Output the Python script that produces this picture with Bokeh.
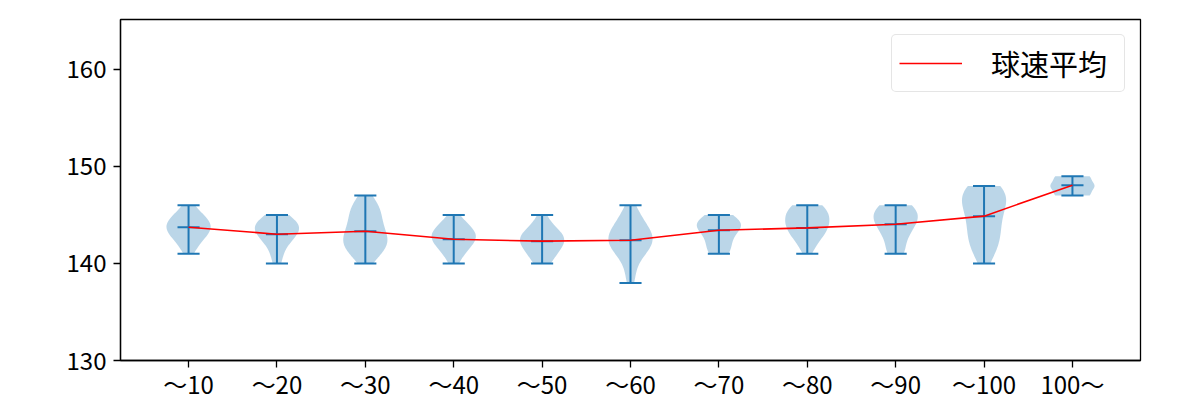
import numpy as np
from bokeh.plotting import figure
from bokeh.models import FixedTicker, Range1d, Legend, LegendItem
from bokeh.embed import file_html
from bokeh.resources import INLINE

# ---- data ----
categories = ["～10", "～20", "～30", "～40", "～50", "～60",
              "～70", "～80", "～90", "～100", "100～"]
# lowest speed of each group (km/h) and pitch counts per km/h upward from it
speed_min = [141, 140, 140, 140, 140, 138, 141, 141, 141, 140, 147]
speed_counts = [
    [1, 2, 4, 5, 3, 1],
    [1, 1, 2, 4, 5, 2],
    [1, 3, 5, 4, 3, 3, 3, 1],
    [1, 2, 4, 5, 3, 1],
    [2, 3, 5, 5, 2, 1],
    [1, 1, 1, 3, 5, 5, 3, 2, 1],
    [2, 2, 2, 5, 2],
    [1, 2, 4, 5, 5, 4],
    [2, 1, 2, 3, 4, 3],
    [1, 2, 3, 3, 3, 3, 4, 5, 4],
    [4, 5, 4],
]
speed_avg = [143.74, 143.02, 143.33, 142.5, 142.3, 142.4,
             143.43, 143.67, 144.05, 144.88, 148.07]

positions = list(range(1, len(categories) + 1))
BLUE = "#1f77b4"

p = figure(width=1184, height=400, output_backend="svg", toolbar_location=None,
           x_range=Range1d(0.23, 11.77), y_range=Range1d(130, 165.15),
           min_border_left=120, min_border_top=19, min_border_bottom=40,
           min_border_right=44)
p.frame_width = 1020
p.frame_height = 341
p.outline_line_color = "black"
p.outline_line_width = 1.3
p.xgrid.visible = False
p.ygrid.visible = False
p.background_fill_color = "white"

# violins (gaussian KDE, Scott bandwidth)
vx, vy = [], []
for pos, lo, cnt in zip(positions, speed_min, speed_counts):
    samples = np.repeat(np.arange(lo, lo + len(cnt)), cnt).astype(float)
    n = len(samples)
    bw = samples.std(ddof=1) * n ** (-0.2)
    ys = np.linspace(samples.min(), samples.max(), 100)
    dens = np.exp(-0.5 * ((ys[:, None] - samples[None, :]) / bw) ** 2).sum(axis=1)
    half = 0.25 * dens / dens.max()
    vx.append(list(pos - half) + list((pos + half)[::-1]))
    vy.append(list(ys) + list(ys[::-1]))
p.patches(vx, vy, fill_color=BLUE, fill_alpha=0.3, line_color=None)

# bars, caps and mean markers
mins = [lo for lo in speed_min]
maxs = [lo + len(c) - 1 for lo, c in zip(speed_min, speed_counts)]
p.segment(positions, mins, positions, maxs, line_color=BLUE, line_width=2)
for vals in (mins, maxs, speed_avg):
    p.segment([x - 0.125 for x in positions], vals,
              [x + 0.125 for x in positions], vals,
              line_color=BLUE, line_width=2)

r = p.line(positions, speed_avg, line_color="red", line_width=1.6)

# axes
tick_font = "Noto Sans CJK JP"
p.xaxis.ticker = FixedTicker(ticks=positions)
p.xaxis.major_label_overrides = {i: c for i, c in zip(positions, categories)}
p.yaxis.ticker = FixedTicker(ticks=[130, 140, 150, 160])
for ax in (p.xaxis[0], p.yaxis[0]):
    ax.major_label_text_font = tick_font
    ax.major_label_text_font_size = "24px"
    ax.major_label_text_color = "black"
    ax.axis_line_color = "black"
    ax.axis_line_width = 1.3
    ax.major_tick_line_color = "black"
    ax.major_tick_line_width = 1.3
    ax.major_tick_out = 7
    ax.major_tick_in = 0
    ax.minor_tick_out = 0
    ax.minor_tick_in = 0
p.xaxis.major_label_standoff = -2
p.yaxis.major_label_standoff = 7

legend = Legend(items=[LegendItem(label="球速平均", renderers=[r])],
                location="top_right", margin=15, padding=7,
                glyph_width=63, glyph_height=20, label_height=20,
                label_width=126, label_standoff=29,
                label_text_font=tick_font, label_text_font_size="29px",
                label_text_color="black",
                border_line_color="#cccccc", border_line_width=1.3,
                background_fill_alpha=1.0)
legend.border_radius = 5
p.add_layout(legend)

open("out.html", "w").write(file_html(p, INLINE))
